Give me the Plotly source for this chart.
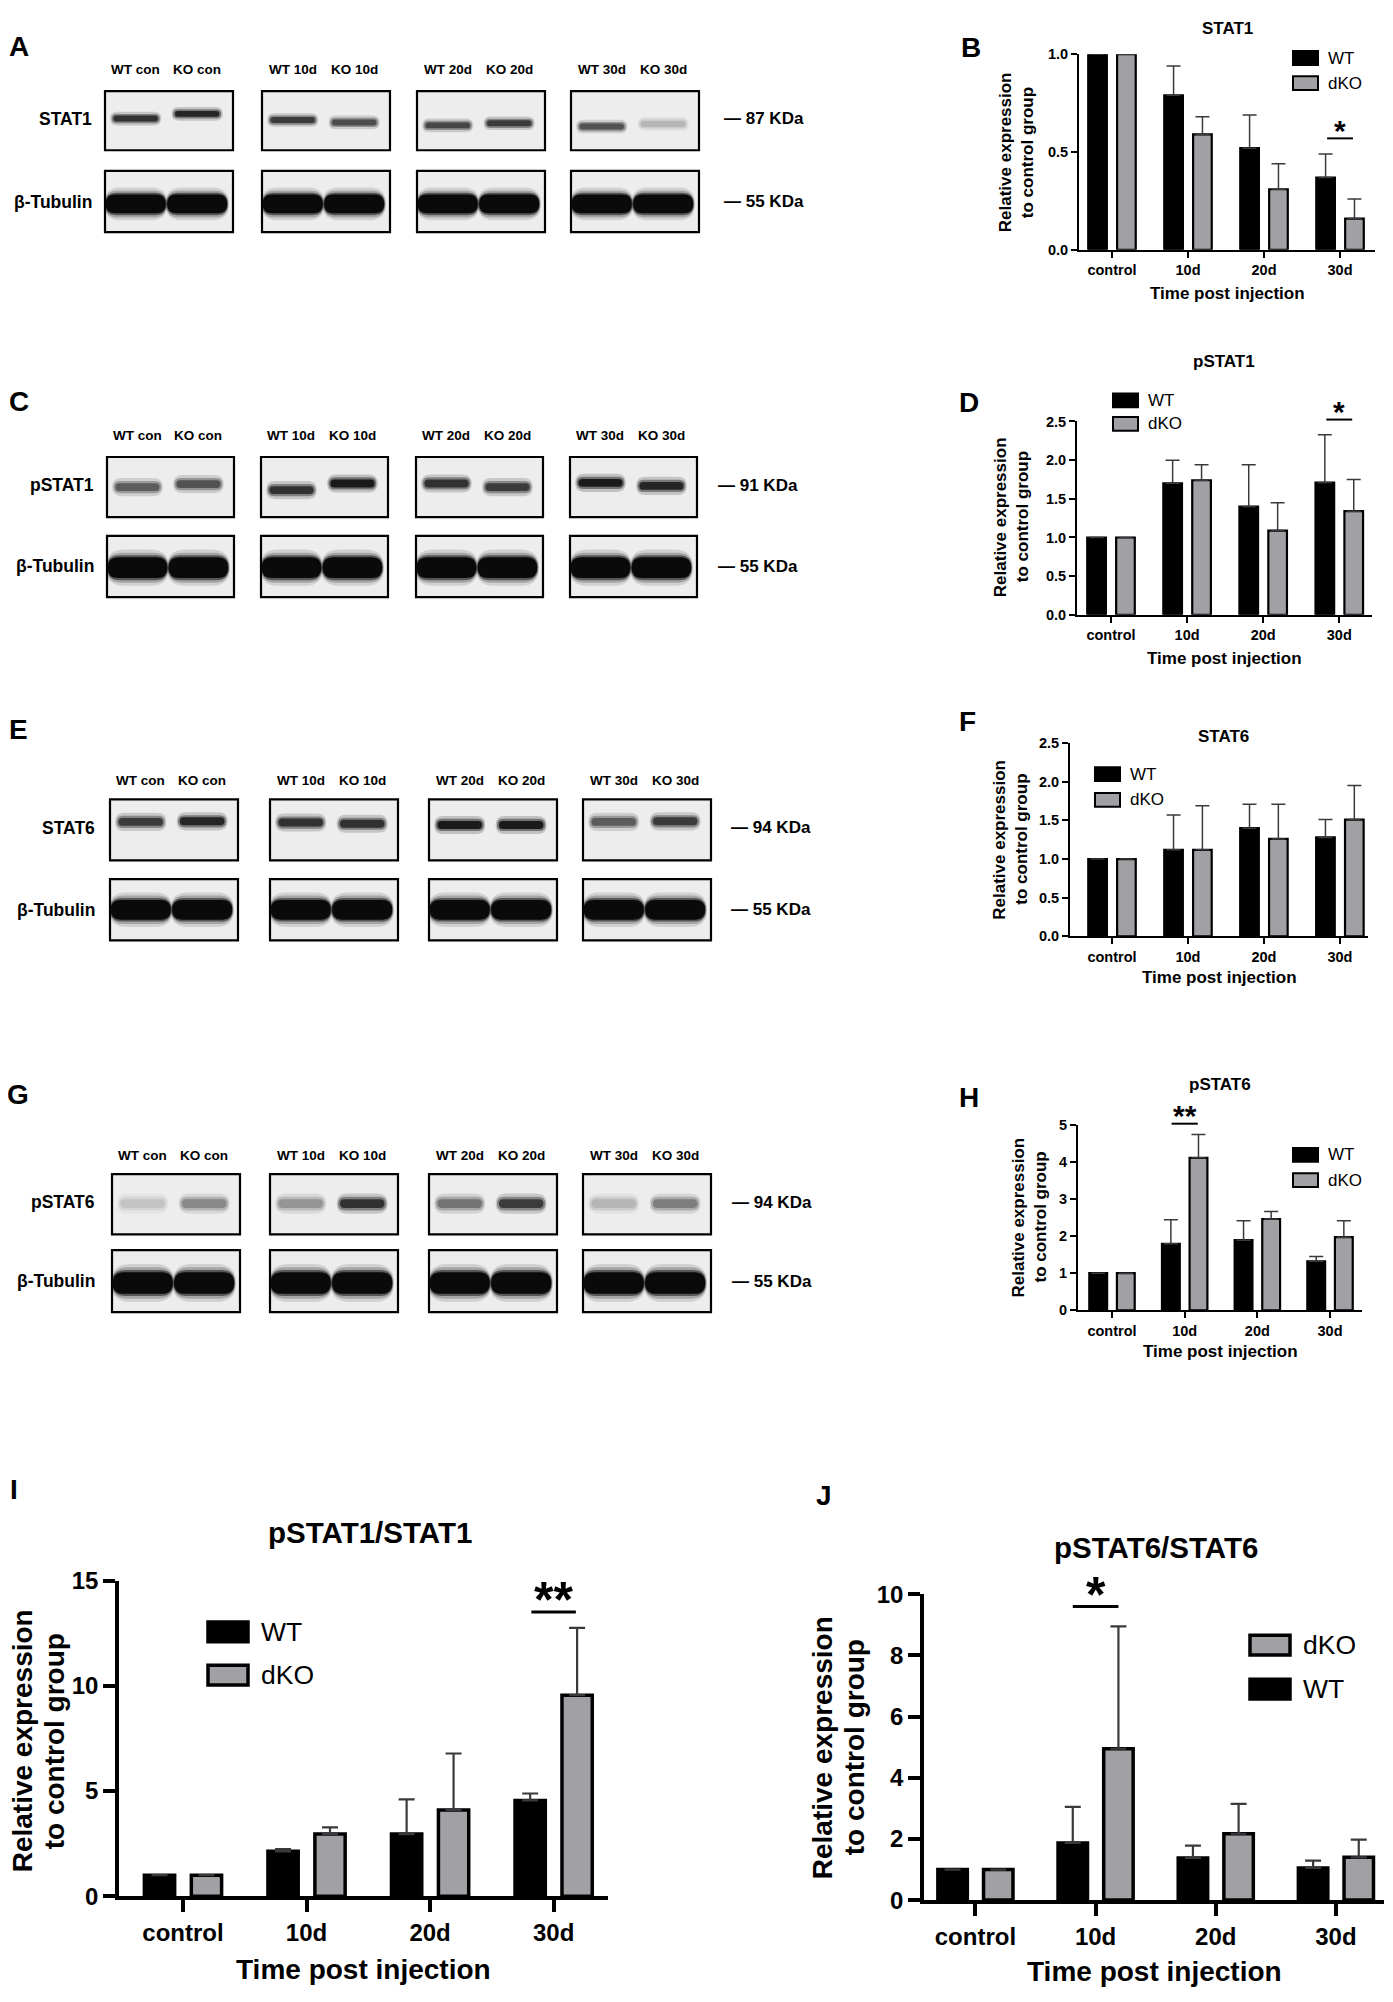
import plotly.graph_objects as go

W, H = 1393, 2002
# the page body keeps its 8px margin on every side; size the figure so the page is exactly W x H
PAD = 8
FW, FH = W - 2 * PAD, H - 2 * PAD
FONT = "Liberation Sans, Arial, Helvetica, sans-serif"

# ---------------- data ----------------
time_points = ["control", "10d", "20d", "30d"]

stat1_wt = [1.0, 0.79, 0.52, 0.37]
stat1_wt_sd = [0, 0.15, 0.17, 0.12]
stat1_dko = [1.0, 0.59, 0.31, 0.16]
stat1_dko_sd = [0, 0.09, 0.13, 0.10]

pstat1_wt = [1.0, 1.70, 1.40, 1.71]
pstat1_wt_sd = [0, 0.30, 0.54, 0.62]
pstat1_dko = [1.0, 1.74, 1.09, 1.34]
pstat1_dko_sd = [0, 0.20, 0.36, 0.41]

stat6_wt = [1.0, 1.12, 1.40, 1.28]
stat6_wt_sd = [0, 0.45, 0.31, 0.23]
stat6_dko = [1.0, 1.12, 1.26, 1.51]
stat6_dko_sd = [0, 0.57, 0.45, 0.44]

pstat6_wt = [1.0, 1.79, 1.89, 1.32]
pstat6_wt_sd = [0, 0.65, 0.52, 0.13]
pstat6_dko = [1.0, 4.11, 2.46, 1.97]
pstat6_dko_sd = [0, 0.63, 0.20, 0.44]

ratio1_wt = [1.0, 2.13, 2.95, 4.55]
ratio1_wt_sd = [0, 0.11, 1.65, 0.33]
ratio1_dko = [1.0, 2.95, 4.10, 9.55]
ratio1_dko_sd = [0, 0.32, 2.68, 3.20]

ratio6_wt = [1.0, 1.87, 1.38, 1.05]
ratio6_wt_sd = [0, 1.18, 0.40, 0.24]
ratio6_dko = [1.0, 4.95, 2.17, 1.40]
ratio6_dko_sd = [0, 4.00, 0.98, 0.58]

lane_labels = ["WT con", "KO con", "WT 10d", "KO 10d", "WT 20d", "KO 20d", "WT 30d", "KO 30d"]

# band darkness per lane (0 = nothing, 1 = saturated)
blot_stat1 = [0.85, 0.9, 0.8, 0.72, 0.75, 0.8, 0.7, 0.25]
blot_pstat1 = [0.65, 0.7, 0.85, 0.95, 0.85, 0.8, 0.95, 0.9]
blot_stat6 = [0.8, 0.9, 0.85, 0.85, 0.95, 0.95, 0.65, 0.8]
blot_pstat6 = [0.18, 0.45, 0.4, 0.85, 0.55, 0.8, 0.25, 0.5]
blot_tubulin_a = [1, 1, 1, 1, 1, 1, 1, 1]
blot_tubulin_c = [1, 1, 1, 1, 1, 1, 1, 1]
blot_tubulin_e = [1, 1, 1, 1, 1, 1, 1, 1]
blot_tubulin_g = [1, 1, 1, 1, 1, 1, 1, 1]

GREY = "#a0a0a5"


def fx(x):
    return (x - PAD) / FW


def fy(y):
    return 1 - (y - PAD) / FH


fig = go.Figure()


def text(x, y, s, size, bold=True, xanchor="center", yanchor="middle", angle=0):
    fig.add_annotation(x=fx(x), y=fy(y), xref="paper", yref="paper", text=s,
                       showarrow=False, textangle=angle, xanchor=xanchor, yanchor=yanchor,
                       font=dict(family=FONT, size=size, color="black",
                                 weight="bold" if bold else "normal"))


def pill(x0, x1, y0, y1):
    r = min((y1 - y0) / 2, (x1 - x0) / 2)
    ym = (y0 + y1) / 2
    p = lambda x, y: f"{fx(x):.5f},{fy(y):.5f}"
    return ("M" + p(x0 + r, y0) + " L" + p(x1 - r, y0) + " Q" + p(x1, y0) + " " + p(x1, ym)
            + " Q" + p(x1, y1) + " " + p(x1 - r, y1) + " L" + p(x0 + r, y1)
            + " Q" + p(x0, y1) + " " + p(x0, ym) + " Q" + p(x0, y0) + " " + p(x0 + r, y0) + " Z")


def band_color(d):
    v = int(round(236 - 226 * d))
    return f"rgb({v},{v},{v})"


# ---------------- western blot panels ----------------
blot_panels = [
    dict(letter="A", letter_xy=(19, 33), label_y=56, boxes=[105, 262, 417, 571], bw=128,
         name_right=94, kda_x=722,
         rows=[dict(name="STAT1", y0=78, y1=138, bands=blot_stat1, kda="— 87 KDa", thick=False, h=6,
                    pos=[0.465, 0.385, 0.49, 0.53, 0.58, 0.545, 0.60, 0.555]),
               dict(name="β-Tubulin", y0=159, y1=221, bands=blot_tubulin_a, kda="— 55 KDa", thick=True, h=19,
                    pos=[0.54] * 8)]),
    dict(letter="C", letter_xy=(19, 393), label_y=427, boxes=[107, 261, 416, 570], bw=127,
         name_right=96, kda_x=716,
         rows=[dict(name="pSTAT1", y0=449, y1=510, bands=blot_pstat1, kda="— 91 KDa", thick=False, h=8,
                    pos=[0.50, 0.45, 0.55, 0.44, 0.44, 0.50, 0.43, 0.48]),
               dict(name="β-Tubulin", y0=529, y1=591, bands=blot_tubulin_c, kda="— 55 KDa", thick=True, h=21,
                    pos=[0.52] * 8)]),
    dict(letter="E", letter_xy=(18, 725), label_y=777, boxes=[110, 270, 429, 583], bw=128,
         name_right=97, kda_x=729,
         rows=[dict(name="STAT6", y0=796, y1=858, bands=blot_stat6, kda="— 94 KDa", thick=False, h=8,
                    pos=[0.37, 0.36, 0.38, 0.40, 0.42, 0.42, 0.37, 0.36]),
               dict(name="β-Tubulin", y0=877, y1=939, bands=blot_tubulin_e, kda="— 55 KDa", thick=True, h=20,
                    pos=[0.5] * 8)]),
    dict(letter="G", letter_xy=(18, 1095), label_y=1157, boxes=[112, 270, 429, 583], bw=128,
         name_right=97, kda_x=730,
         rows=[dict(name="pSTAT6", y0=1176, y1=1237, bands=blot_pstat6, kda="— 94 KDa", thick=False, h=9,
                    pos=[0.49] * 8),
               dict(name="β-Tubulin", y0=1253, y1=1316, bands=blot_tubulin_g, kda="— 55 KDa", thick=True, h=22,
                    pos=[0.53] * 8)]),
]

lane_frac = [0.24, 0.72]

for pnl in blot_panels:
    text(pnl["letter_xy"][0], pnl["letter_xy"][1], pnl["letter"], 28)
    for k, bx in enumerate(pnl["boxes"]):
        for j in range(2):
            text(bx + lane_frac[j] * pnl["bw"], pnl["label_y"], lane_labels[2 * k + j], 13.5)
    for row in pnl["rows"]:
        y0, y1 = row["y0"], row["y1"]
        ymid = (y0 + y1) / 2
        text(pnl["name_right"], ymid + (0 if row["thick"] else -2), row["name"], 17.5, xanchor="right")
        text(pnl["kda_x"], ymid + (0 if row["thick"] else -2), row["kda"], 17, xanchor="left")
        for k, bx in enumerate(pnl["boxes"]):
            fig.add_shape(type="rect", xref="paper", yref="paper",
                          x0=fx(bx), x1=fx(bx + pnl["bw"]), y0=fy(y1), y1=fy(y0),
                          fillcolor="#ededed", line=dict(color="black", width=2.2))
            for j in range(2):
                lane = 2 * k + j
                d = row["bands"][lane]
                cx = bx + lane_frac[j] * pnl["bw"]
                cy = y0 + row["pos"][lane] * (y1 - y0)
                if row["thick"]:
                    w = 0.47 * pnl["bw"]
                    layers = [(1.06, 1.75, 0.12), (1.04, 1.45, 0.22), (1.02, 1.2, 0.5), (1.0, 1.0, 1.0)]
                else:
                    w = 0.37 * pnl["bw"]
                    layers = [(1.08, 2.3, 0.2), (1.02, 1.55, 0.45), (0.94, 1.0, 0.95)]
                for sw, sh, op in layers:
                    hw, hh = w * sw / 2, row["h"] * sh / 2
                    fig.add_shape(type="path", xref="paper", yref="paper",
                                  path=pill(cx - hw, cx + hw, cy - hh, cy + hh),
                                  fillcolor=band_color(d), opacity=op, line=dict(width=0))

# ---------------- bar charts ----------------
small = dict(title=17, tick=14.5, axtitle=17, legend=17, box=(25, 14), axlw=2, ticklen=6,
             barlw=2.2, errt=1.5, errw=7, star=30, siglw=2, ygap=22)
big = dict(title=29.5, tick=24, axtitle=28, legend=26.5, box=(40, 20), axlw=3.5, ticklen=12,
           barlw=3.5, errt=2.2, errw=8, star=50, siglw=3, ygap=32)

charts = [
    dict(wt=stat1_wt, wt_sd=stat1_wt_sd, dko=stat1_dko, dko_sd=stat1_dko_sd,
         px=(1079, 1375), py=(40.7, 239), ymax=1.0, dtick=0.5, fmt=".1f", xr=[-0.434, 3.46],
         title="STAT1", title_xy=(1227, 15), ytitle=(1016, 140), xtitle_y=283,
         legend=dict(x=1293, ys=[44.5, 70], order=["WT", "dKO"]), letter="B", letter_xy=(971, 34),
         sig=(3, 0.17, 0.57, "*"), st=small),
    dict(wt=pstat1_wt, wt_sd=pstat1_wt_sd, dko=pstat1_dko, dko_sd=pstat1_dko_sd,
         px=(1077, 1372), py=(413, 609), ymax=2.5, dtick=0.5, fmt=".1f", xr=[-0.447, 3.43],
         title="pSTAT1", title_xy=(1224, 352), ytitle=(1011, 510), xtitle_y=653,
         legend=dict(x=1113, ys=[391.5, 415.5], order=["WT", "dKO"]), letter="D", letter_xy=(969, 394),
         sig=(3, 0.17, 2.525, "*"), st=small),
    dict(wt=stat6_wt, wt_sd=stat6_wt_sd, dko=stat6_dko, dko_sd=stat6_dko_sd,
         px=(1070, 1368), py=(739, 935), ymax=2.5, dtick=0.5, fmt=".1f", xr=[-0.553, 3.37],
         title="STAT6", title_xy=(1223, 732), ytitle=(1011, 837), xtitle_y=977,
         legend=dict(x=1095, ys=[770.5, 796.5], order=["WT", "dKO"]), letter="F", letter_xy=(967, 717),
         sig=None, st=small),
    dict(wt=pstat6_wt, wt_sd=pstat6_wt_sd, dko=pstat6_dko, dko_sd=pstat6_dko_sd,
         px=(1078, 1362), py=(1126, 1314), ymax=5, dtick=1, fmt="d", xr=[-0.468, 3.44],
         title="pSTAT6", title_xy=(1220, 1085), ytitle=(1030, 1220), xtitle_y=1356,
         legend=dict(x=1293, ys=[1156.5, 1182], order=["WT", "dKO"]), letter="H", letter_xy=(969, 1098),
         sig=(1, 0.18, 5.03, "**"), st=small),
    dict(wt=ratio1_wt, wt_sd=ratio1_wt_sd, dko=ratio1_dko, dko_sd=ratio1_dko_sd,
         px=(119, 608), py=(1588, 1908), ymax=15, dtick=5, fmt="d", xr=[-0.518, 3.44],
         title="pSTAT1/STAT1", title_xy=(370, 1539), ytitle=(38, 1751), xtitle_y=1982,
         legend=dict(x=208, ys=[1640, 1684], order=["WT", "dKO"]), letter="I", letter_xy=(14, 1496),
         sig=(3, 0.18, 13.5, "**"), st=big),
    dict(wt=ratio6_wt, wt_sd=ratio6_wt_sd, dko=ratio6_dko, dko_sd=ratio6_dko_sd,
         px=(924, 1384), py=(1602, 1912), ymax=10, dtick=2, fmt="d", xr=[-0.428, 3.40],
         title="pSTAT6/STAT6", title_xy=(1156, 1555), ytitle=(838, 1757), xtitle_y=1984,
         legend=dict(x=1250, ys=[1653.5, 1698], order=["dKO", "WT"]), letter="J", letter_xy=(824, 1502),
         sig=(1, 0.19, 9.6, "*"), st=big),
]

layout_axes = {}
for n, c in enumerate(charts, start=1):
    st = c["st"]
    xid = "x" if n == 1 else f"x{n}"
    yid = "y" if n == 1 else f"y{n}"
    for name, vals, sd, fill in [("WT", c["wt"], c["wt_sd"], "black"), ("dKO", c["dko"], c["dko_sd"], GREY)]:
        fig.add_trace(go.Bar(
            x=time_points, y=vals, name=name, xaxis=xid, yaxis=yid, showlegend=False,
            marker=dict(color=fill, line=dict(color="black", width=st["barlw"])),
            error_y=dict(type="data", symmetric=False, array=sd, arrayminus=[0] * len(sd),
                         color="#3a3a3a", thickness=st["errt"], width=st["errw"]),
        ))
    layout_axes["xaxis" if n == 1 else f"xaxis{n}"] = dict(
        domain=[fx(c["px"][0]), fx(c["px"][1])], anchor=yid, range=c["xr"],
        showline=True, linewidth=st["axlw"], linecolor="black", showgrid=False, zeroline=False,
        ticks="outside", ticklen=st["ticklen"], tickwidth=st["axlw"], tickcolor="black",
        tickfont=dict(family=FONT, size=st["tick"], color="black", weight="bold"), fixedrange=True)
    layout_axes["yaxis" if n == 1 else f"yaxis{n}"] = dict(
        domain=[fy(c["py"][1]), fy(c["py"][0])], anchor=xid, range=[0, c["ymax"]],
        dtick=c["dtick"], tickformat=c["fmt"],
        showline=True, linewidth=st["axlw"], linecolor="black", showgrid=False, zeroline=False,
        ticks="outside", ticklen=st["ticklen"], tickwidth=st["axlw"], tickcolor="black",
        tickfont=dict(family=FONT, size=st["tick"], color="black", weight="bold"), fixedrange=True)

    # titles
    text(c["title_xy"][0], c["title_xy"][1], c["title"], st["title"])
    text((c["px"][0] + c["px"][1]) / 2, c["xtitle_y"], "Time post injection", st["axtitle"])
    # y title as two separate lines so the line spacing can be set
    yx, yy = c["ytitle"]
    text(yx - st["ygap"] / 2, yy, "Relative expression", st["axtitle"], angle=-90)
    text(yx + st["ygap"] / 2, yy, "to control group", st["axtitle"], angle=-90)
    text(c["letter_xy"][0], c["letter_xy"][1], c["letter"], 28)

    # legend drawn as boxes + labels
    bw, bh = st["box"]
    lg = c["legend"]
    for name, yc in zip(lg["order"], lg["ys"]):
        fig.add_shape(type="rect", xref="paper", yref="paper",
                      x0=fx(lg["x"]), x1=fx(lg["x"] + bw), y0=fy(yc + bh / 2), y1=fy(yc - bh / 2),
                      fillcolor="black" if name == "WT" else GREY,
                      line=dict(color="black", width=st["axlw"]))
        text(lg["x"] + bw + 0.55 * bh, yc, name, st["legend"], bold=False, xanchor="left")

    # significance bracket (in axis-domain units so it may sit above the top tick)
    if c["sig"]:
        cat, half, yline, stars = c["sig"]
        frac = yline / c["ymax"]
        fig.add_shape(type="line", xref=xid, yref=f"{yid} domain",
                      x0=cat - half, x1=cat + half, y0=frac, y1=frac,
                      line=dict(color="black", width=st["siglw"]))
        fig.add_annotation(x=cat, y=frac, xref=xid, yref=f"{yid} domain", text=stars, showarrow=False,
                           xanchor="center", yanchor="bottom", yshift=-0.36 * st["star"],
                           font=dict(family=FONT, size=st["star"], color="black", weight="bold"))

fig.update_layout(
    width=FW, height=FH, margin=dict(l=0, r=0, t=0, b=0),
    paper_bgcolor="white", plot_bgcolor="white", showlegend=False,
    barmode="group", bargap=0.24, bargroupgap=0.355,
    **layout_axes,
)

fig.write_html("out.html")
